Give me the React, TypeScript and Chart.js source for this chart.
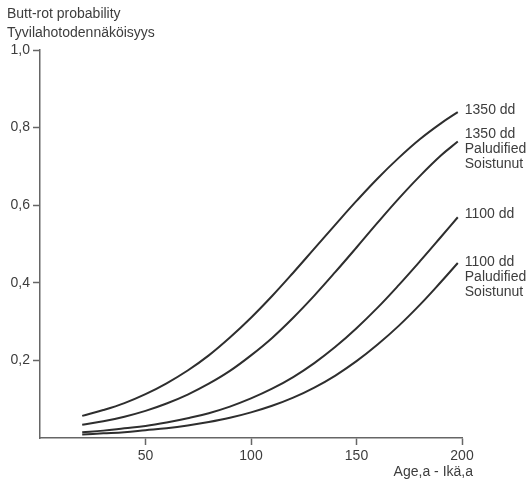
import React, { useEffect, useRef } from "react";
import { Chart, registerables } from "chart.js";

Chart.register(...registerables);

const ages = [20, 30, 40, 50, 60, 70, 80, 90, 100, 110, 120, 130, 140, 150, 160, 170, 180, 190, 198];
const dd1350 = [0.057, 0.072, 0.09, 0.113, 0.141, 0.174, 0.213, 0.259, 0.31, 0.366, 0.426, 0.488, 0.55, 0.611, 0.669, 0.722, 0.77, 0.811, 0.84];
const dd1350Paludified = [0.034, 0.043, 0.055, 0.07, 0.089, 0.112, 0.14, 0.173, 0.213, 0.258, 0.31, 0.367, 0.428, 0.491, 0.555, 0.617, 0.675, 0.728, 0.764];
const dd1100 = [0.015, 0.019, 0.025, 0.031, 0.04, 0.051, 0.064, 0.081, 0.102, 0.127, 0.157, 0.193, 0.235, 0.283, 0.336, 0.394, 0.455, 0.518, 0.569];
const dd1100Paludified = [0.009, 0.012, 0.015, 0.02, 0.025, 0.032, 0.041, 0.052, 0.066, 0.083, 0.104, 0.13, 0.161, 0.198, 0.241, 0.289, 0.343, 0.402, 0.451];

const seriesList = [dd1350, dd1350Paludified, dd1100, dd1100Paludified];
const curveLabels = [
  ["1350 dd"],
  ["1350 dd", "Paludified", "Soistunut"],
  ["1100 dd"],
  ["1100 dd", "Paludified", "Soistunut"],
];
const yTitleLines = ["Butt-rot probability", "Tyvilahotodennäköisyys"];
const xTitle = "Age,a - Ikä,a";

const FONT = "'Liberation Sans', Arial, sans-serif";
const INK = "#2e2e2e";
const TEXT = "#3d3d3d";
const AXIS = "#666";
const LABEL_OFFSETS = [-2, -7, -3, -1];

export default function App() {
  const ref = useRef<HTMLCanvasElement | null>(null);

  useEffect(() => {
    if (!ref.current) return;

    const textPlugin = {
      id: "texts",
      afterDraw(chart: any) {
        const ctx = chart.ctx;
        const xs = chart.scales.x;
        const ys = chart.scales.y;
        ctx.save();
        ctx.fillStyle = TEXT;
        ctx.font = `14px ${FONT}`;
        ctx.textBaseline = "middle";
        ctx.textAlign = "left";
        ctx.fillText(yTitleLines[0], 7, 14);
        ctx.fillText(yTitleLines[1], 7, 33);
        seriesList.forEach((s, i) => {
          const lastX = xs.getPixelForValue(ages[ages.length - 1]);
          const lastY = ys.getPixelForValue(s[s.length - 1]) + LABEL_OFFSETS[i];
          curveLabels[i].forEach((t, k) => {
            ctx.fillText(t, lastX + 7, lastY + k * 15);
          });
        });
        ctx.textAlign = "right";
        ctx.fillText(xTitle, xs.right + 11, 472);
        ctx.restore();
      },
    };

    const chart = new Chart(ref.current, {
      type: "line",
      data: {
        datasets: seriesList.map((s) => ({
          data: ages.map((a, i) => ({ x: a, y: s[i] })),
          borderColor: INK,
          borderWidth: 2,
          pointRadius: 0,
          tension: 0.4,
          fill: false,
        })),
      },
      options: {
        animation: false,
        responsive: false,
        events: [],
        layout: { padding: { top: 50, right: 65, left: 0, bottom: 0 } },
        plugins: { legend: { display: false }, tooltip: { enabled: false }, title: { display: false } },
        scales: {
          x: {
            type: "linear",
            min: 0,
            max: 200,
            afterFit(scale: any) {
              scale.height = 44;
            },
            border: { display: true, color: AXIS, width: 1.5 },
            grid: {
              drawOnChartArea: false,
              drawTicks: true,
              tickLength: 7,
              tickColor: (c: any) => (c.tick && c.tick.value === 0 ? "rgba(0,0,0,0)" : AXIS),
              tickWidth: 1.5,
            },
            ticks: {
              stepSize: 50,
              padding: 3,
              color: TEXT,
              font: { family: FONT, size: 14 },
              callback: (v: any) => (v === 0 ? "" : String(v)),
            },
          },
          y: {
            type: "linear",
            min: 0,
            max: 1,
            afterFit(scale: any) {
              scale.width = 40;
            },
            border: { display: true, color: AXIS, width: 1.5 },
            grid: {
              drawOnChartArea: false,
              drawTicks: true,
              tickLength: 7,
              tickColor: (c: any) => (c.tick && c.tick.value === 0 ? "rgba(0,0,0,0)" : AXIS),
              tickWidth: 1.5,
            },
            ticks: {
              stepSize: 0.2,
              padding: 3,
              color: TEXT,
              font: { family: FONT, size: 14 },
              callback: (v: any) => (v === 0 ? "" : Number(v).toFixed(1).replace(".", ",")),
            },
          },
        },
      },
      plugins: [textPlugin],
    });
    return () => chart.destroy();
  }, []);

  return (
    <div style={{ position: "absolute", left: 0, top: 0, width: 527, height: 482, background: "#fff" }}>
      <canvas ref={ref} width={527} height={482} style={{ display: "block" }} />
    </div>
  );
}
